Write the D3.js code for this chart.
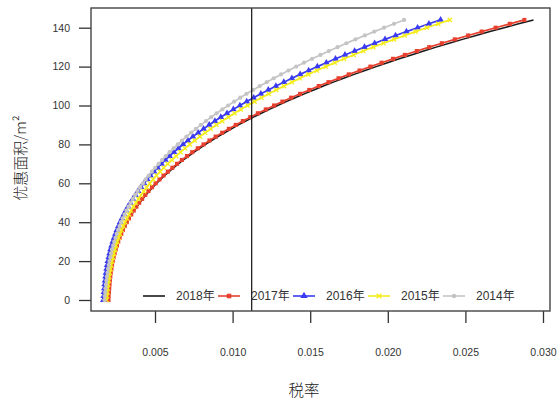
<!DOCTYPE html>
<html>
<head>
<meta charset="utf-8">
<script src="https://cdn.jsdelivr.net/npm/d3@7"></script>
<style>
  body { margin: 0; background: #fff; }
  svg { display: block; }
</style>
</head>
<body>
<svg id="chart" width="560" height="400"></svg>
<script>
// Preferential area (m²) levels shared by every year's curve
const area = [0,2,4,6,8,10,12,14,16,18,20,22,24,26,28,30,32,34,36,38,40,42,44,46,48,50,52,54,56,58,60,62,64,66,68,70,72,74,76,78,80,82,84,86,88,90,92,94,96,98,100,102,104,106,108,110,112,114,116,118,120,122,124,126,128,130,132,134,136,138,140,142,144];

// Tax rate at each area level, one array per year
const rate2018 = [0.00200,0.00201,0.00203,0.00205,0.00207,0.00209,0.00212,0.00215,0.00219,0.00224,
  0.00229,0.00234,0.00241,0.00248,0.00256,0.00264,0.00274,0.00284,0.00296,0.00308,
  0.00321,0.00335,0.00350,0.00366,0.00383,0.00402,0.00421,0.00442,0.00464,0.00487,
  0.00511,0.00536,0.00563,0.00591,0.00621,0.00651,0.00683,0.00717,0.00752,0.00788,
  0.00826,0.00865,0.00906,0.00949,0.00993,0.01038,0.01085,0.01134,0.01185,0.01237,
  0.01290,0.01346,0.01403,0.01462,0.01523,0.01585,0.01649,0.01715,0.01783,0.01853,
  0.01925,0.01998,0.02074,0.02152,0.02231,0.02312,0.02396,0.02481,0.02569,0.02658,
  0.02750,0.02843,0.02939];
const rate2017 = [0.00200,0.00201,0.00203,0.00205,0.00207,0.00209,0.00212,0.00215,0.00219,0.00223,
  0.00228,0.00234,0.00240,0.00247,0.00255,0.00263,0.00272,0.00283,0.00293,0.00305,
  0.00318,0.00332,0.00347,0.00363,0.00380,0.00398,0.00417,0.00437,0.00458,0.00481,
  0.00504,0.00529,0.00555,0.00583,0.00612,0.00642,0.00673,0.00706,0.00740,0.00776,
  0.00813,0.00851,0.00891,0.00933,0.00976,0.01020,0.01066,0.01114,0.01163,0.01214,
  0.01267,0.01321,0.01377,0.01435,0.01494,0.01555,0.01618,0.01683,0.01749,0.01818,
  0.01888,0.01960,0.02034,0.02110,0.02187,0.02267,0.02348,0.02432,0.02518,0.02605,
  0.02695,0.02786,0.02880];
const rate2016 = [0.00167,0.00169,0.00171,0.00173,0.00175,0.00178,0.00181,0.00184,0.00188,0.00192,
  0.00196,0.00202,0.00207,0.00213,0.00220,0.00228,0.00236,0.00245,0.00254,0.00264,
  0.00275,0.00287,0.00299,0.00312,0.00326,0.00341,0.00357,0.00374,0.00391,0.00410,
  0.00429,0.00450,0.00471,0.00494,0.00517,0.00542,0.00567,0.00594,0.00622,0.00651,
  0.00681,0.00712,0.00744,0.00778,0.00813,0.00849,0.00886,0.00924,0.00964,0.01005,
  0.01047,0.01091,0.01136,0.01182,0.01230,0.01279,0.01330,0.01382,0.01435,0.01490,
  0.01546,0.01604,0.01663,0.01724,0.01786,0.01850,0.01915,0.01982,0.02050,0.02120,
  0.02192,0.02265,0.02340];
const rate2015 = [0.00188,0.00190,0.00193,0.00195,0.00198,0.00202,0.00205,0.00209,0.00213,0.00218,
  0.00223,0.00229,0.00235,0.00242,0.00249,0.00257,0.00266,0.00275,0.00285,0.00296,
  0.00307,0.00320,0.00333,0.00346,0.00361,0.00377,0.00393,0.00410,0.00428,0.00447,
  0.00467,0.00488,0.00510,0.00533,0.00557,0.00582,0.00609,0.00636,0.00664,0.00694,
  0.00724,0.00756,0.00789,0.00823,0.00858,0.00895,0.00933,0.00972,0.01012,0.01053,
  0.01096,0.01141,0.01186,0.01233,0.01281,0.01331,0.01382,0.01434,0.01488,0.01543,
  0.01600,0.01658,0.01718,0.01779,0.01842,0.01906,0.01972,0.02040,0.02109,0.02179,
  0.02251,0.02325,0.02400];
const rate2014 = [0.00174,0.00176,0.00179,0.00181,0.00184,0.00187,0.00190,0.00194,0.00197,0.00202,
  0.00206,0.00212,0.00217,0.00223,0.00230,0.00237,0.00245,0.00253,0.00262,0.00271,
  0.00281,0.00292,0.00304,0.00316,0.00329,0.00342,0.00357,0.00372,0.00388,0.00404,
  0.00422,0.00440,0.00460,0.00480,0.00501,0.00523,0.00546,0.00569,0.00594,0.00620,
  0.00647,0.00674,0.00703,0.00733,0.00764,0.00795,0.00828,0.00862,0.00897,0.00934,
  0.00971,0.01010,0.01049,0.01090,0.01132,0.01175,0.01220,0.01265,0.01312,0.01360,
  0.01410,0.01460,0.01512,0.01566,0.01620,0.01676,0.01733,0.01792,0.01852,0.01913,
  0.01976,0.02040,0.02105];

const years = ["2018年", "2017年", "2016年", "2015年", "2014年"];
const refRate = 0.01123;               // vertical reference line
const xTicks = [0.005, 0.010, 0.015, 0.020, 0.025, 0.030];
const yTicks = [0, 20, 40, 60, 80, 100, 120, 140];
const xTitle = "税率";
const yTitle = "优惠面积/m²";

// ---- drawing ----
const svg = d3.select("#chart");
const box = { left: 91, right: 550, top: 8, bottom: 311 };
const numFont = "'Liberation Sans', Arial, 'Noto Sans CJK SC', sans-serif";
const cjkFont = "'Noto Sans CJK SC', 'Liberation Sans', sans-serif";

const x = d3.scaleLinear().domain([0.000876, 0.030451]).range([box.left, box.right]);
const y = d3.scaleLinear().domain([-5.66, 150.13]).range([box.bottom, box.top]);

// stroked "x" marker for the symbol generator
const symbolCrossX = {
  draw(ctx, size) {
    const r = Math.sqrt(size) / 2;
    ctx.moveTo(-r, -r); ctx.lineTo(r, r);
    ctx.moveTo(r, -r); ctx.lineTo(-r, r);
  }
};

const series = [
  { name: years[0], rates: rate2018, color: "#1a1a1a", symbol: null, width: 1.5 },
  { name: years[1], rates: rate2017, color: "#e8402f", symbol: d3.symbolSquare, size: 17, fill: true, width: 1.7 },
  { name: years[2], rates: rate2016, color: "#3a3af2", symbol: d3.symbolTriangle, size: 19, fill: true, width: 1.7 },
  { name: years[3], rates: rate2015, color: "#f5ec1c", symbol: symbolCrossX, size: 18, fill: false, width: 1.7 },
  { name: years[4], rates: rate2014, color: "#c4c4c4", symbol: d3.symbolCircle, size: 14, fill: true, width: 1.7 }
];

const line = d3.line().x(d => x(d.r)).y(d => y(d.a));

// axes
const yAxis = svg.append("g")
  .attr("transform", `translate(${box.left},0)`)
  .call(d3.axisLeft(y).tickValues(yTicks).tickSize(12).tickPadding(9).tickFormat(d3.format("d")));
const xAxis = svg.append("g")
  .attr("transform", `translate(0,${box.bottom})`)
  .call(d3.axisBottom(x).tickValues(xTicks).tickSize(12).tickPadding(26).tickFormat(d3.format(".3f")));
[yAxis, xAxis].forEach(g => {
  g.select(".domain").remove();
  g.selectAll(".tick line").attr("stroke", "#333").attr("stroke-width", 1.3);
  g.selectAll(".tick text").attr("fill", "#333").style("font-family", numFont).style("font-size", "10.5px");
});

// curves
const curves = svg.append("g");
series.forEach(s => {
  const pts = area.map((a, i) => ({ a, r: s.rates[i] }));
  curves.append("path").datum(pts)
    .attr("d", line)
    .attr("fill", "none")
    .attr("stroke", s.color)
    .attr("stroke-width", s.width);
  if (s.symbol) {
    const sym = d3.symbol().type(s.symbol).size(s.size);
    curves.append("g").selectAll("path").data(pts).join("path")
      .attr("transform", d => `translate(${x(d.r)},${y(d.a)})`)
      .attr("d", sym)
      .attr("fill", s.fill ? s.color : "none")
      .attr("stroke", s.fill ? "none" : s.color)
      .attr("stroke-width", s.fill ? 0 : 1.3);
  }
});

// reference line
svg.append("line")
  .attr("x1", x(refRate)).attr("x2", x(refRate))
  .attr("y1", box.top).attr("y2", box.bottom)
  .attr("stroke", "#111").attr("stroke-width", 1.2);

// frame
svg.append("rect")
  .attr("x", box.left).attr("y", box.top)
  .attr("width", box.right - box.left).attr("height", box.bottom - box.top)
  .attr("fill", "none").attr("stroke", "#444").attr("stroke-width", 1.4);

// legend
const legend = svg.append("g").attr("transform", "translate(143,296)");
series.forEach((s, i) => {
  const g = legend.append("g").attr("transform", `translate(${i * 75},0)`);
  g.append("line").attr("x1", 0).attr("x2", 22).attr("y1", 0).attr("y2", 0)
    .attr("stroke", s.color).attr("stroke-width", 1.6);
  if (s.symbol) {
    g.append("path")
      .attr("transform", "translate(11,0)")
      .attr("d", d3.symbol().type(s.symbol).size(s.size * 1.2))
      .attr("fill", s.fill ? s.color : "none")
      .attr("stroke", s.fill ? "none" : s.color)
      .attr("stroke-width", s.fill ? 0 : 1.3);
  }
  g.append("text").attr("x", 33).attr("y", 0)
    .attr("dominant-baseline", "central")
    .attr("fill", "#333")
    .style("font-family", numFont).style("font-size", "12px")
    .text(s.name);
});

// axis titles
svg.append("text")
  .attr("x", 304).attr("y", 389)
  .attr("text-anchor", "middle").attr("dominant-baseline", "central")
  .attr("fill", "#222")
  .style("font-family", cjkFont).style("font-size", "15.5px").style("font-weight", 300)
  .text(xTitle);
svg.append("text")
  .attr("transform", "translate(19,158) rotate(-90)")
  .attr("text-anchor", "middle").attr("dominant-baseline", "central")
  .attr("fill", "#222")
  .style("font-family", cjkFont).style("font-size", "15px").style("font-weight", 300)
  .text(yTitle);
</script>
</body>
</html>
